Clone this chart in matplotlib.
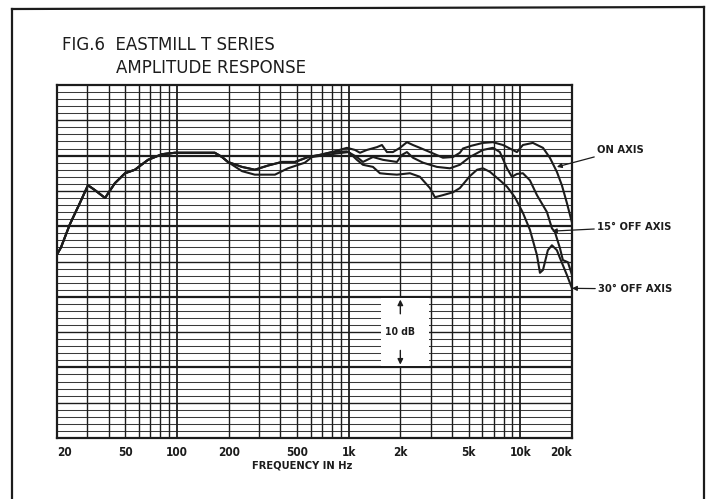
import matplotlib
matplotlib.use('Agg')
import matplotlib.pyplot as plt
from matplotlib.patches import Rectangle
from matplotlib.lines import Line2D
import numpy as np

# 低频段三条曲线重合
lf_freq = [20, 21.1, 23.8, 27.2, 30.3, 33.3, 38.1, 43.5, 49.8, 56.9, 67.8, 81.8, 97.3, 116, 136, 166, 183, 198]
lf_db = [26.0, 27.0, 30.3, 33.3, 35.8, 35.1, 34.0, 36.1, 37.5, 38.0, 39.4, 40.2, 40.4, 40.4, 40.4, 40.4, 39.8, 39.1]

on_freq = [239, 284, 340, 408, 487, 580, 680, 800, 977, 1089, 1164, 1277, 1462, 1563, 1671, 1811, 1990,
           2185, 2369, 2600, 2975, 3540, 4050, 4445, 4630, 5200, 6055, 6925, 7925, 9555, 10350, 11830,
           13550, 14860, 16330, 17460, 18670, 20000]
on_db = [38.4, 38.0, 38.6, 39.1, 39.1, 39.8, 40.1, 40.5, 41.1, 40.8, 40.4, 40.8, 41.2, 41.5, 40.5, 40.5, 41.1,
         41.9, 41.5, 41.1, 40.5, 39.7, 39.8, 40.4, 41.0, 41.4, 41.8, 41.9, 41.5, 40.5, 41.5, 41.8,
         41.1, 39.7, 37.7, 35.8, 33.3, 30.5]

off15_freq = [239, 284, 340, 408, 487, 580, 680, 800, 977, 1117, 1211, 1385, 1585, 1910, 2043, 2185, 2369,
              2710, 3266, 3890, 4445, 5085, 6055, 6925, 7600, 8360, 8935, 9555, 10350, 11370, 12500,
              14290, 15280, 15890, 17010, 17700, 18930, 20000]
off15_db = [38.4, 38.0, 38.6, 39.1, 39.1, 39.8, 40.1, 40.5, 40.6, 39.8, 39.1, 39.8, 39.4, 39.1, 40.1, 40.5, 39.7,
            39.0, 38.4, 38.2, 38.7, 39.8, 40.8, 41.1, 40.5, 38.2, 37.0, 37.4, 37.5, 36.5, 34.4,
            32.0, 29.7, 29.2, 26.9, 25.2, 24.9, 23.1]

off30_freq = [239, 284, 372, 443, 556, 611, 700, 850, 1000, 1117, 1211, 1385, 1521, 1671, 1910, 2275, 2600,
              2975, 3180, 3540, 4050, 4445, 5085, 5600, 6055, 6655, 7600, 8360, 9300, 10350, 11370,
              12500, 13010, 13550, 14470, 15280, 16330, 17010, 18670, 20000]
off30_db = [37.8, 37.3, 37.3, 38.2, 39.0, 39.8, 40.0, 40.3, 40.5, 39.4, 38.7, 38.4, 37.5, 37.4, 37.3, 37.5, 37.0,
            35.4, 34.1, 34.4, 34.8, 35.4, 37.1, 38.0, 38.2, 37.7, 36.5, 35.6, 34.1, 31.9, 29.5,
            25.9, 23.4, 23.8, 26.6, 27.3, 26.6, 25.5, 23.1, 21.2]

tick_freqs = [20, 50, 100, 200, 500, 1000, 2000, 5000, 10000, 20000]
tick_labels = ['20', '50', '100', '200', '500', '1k', '2k', '5k', '10k', '20k']

ink = '#1c1c1c'
lab = dict(family='DejaVu Sans', fontstretch='condensed', fontweight='bold', color=ink)

fig = plt.figure(figsize=(7.13, 4.99), dpi=100)
ax = fig.add_axes([57 / 713, 1 - 438 / 499, 515 / 713, 353 / 499])
ax.set_xscale('log')
ax.set_xlim(20, 20000)
ax.set_ylim(0, 50)

# 坐标纸网格
for d in range(1, 50):
    if d % 10 == 0:
        ax.axhline(d, color=ink, lw=1.6, zorder=1)
    elif d % 5 == 0:
        ax.axhline(d, color=ink, lw=1.0, zorder=1)
    else:
        ax.axhline(d, color='#3a3a3a', lw=0.75, zorder=1)
for dec in [10, 100, 1000, 10000]:
    for m in range(1, 10):
        f = dec * m
        if 20 < f < 20000:
            ax.axvline(f, color=ink, lw=1.3 if m == 1 else 1.0, zorder=1)

# 10 dB 标尺
ax.add_patch(Rectangle((1540, 10.2), 2950 - 1540, 9.6, facecolor='white', edgecolor='none', zorder=2))
ax.annotate('', xy=(2000, 20), xytext=(2000, 17.2),
            arrowprops=dict(arrowstyle='-|>', lw=1.0, color=ink, mutation_scale=8), zorder=3)
ax.annotate('', xy=(2000, 10), xytext=(2000, 12.8),
            arrowprops=dict(arrowstyle='-|>', lw=1.0, color=ink, mutation_scale=8), zorder=3)
ax.text(2000, 15, '10 dB', ha='center', va='center', fontsize=7.5, zorder=3, **lab)

# 曲线
ax.plot(lf_freq + off30_freq, lf_db + off30_db, color=ink, lw=1.5, zorder=4)
ax.plot(lf_freq + off15_freq, lf_db + off15_db, color=ink, lw=1.5, zorder=4)
ax.plot(lf_freq + on_freq, lf_db + on_db, color=ink, lw=1.5, zorder=4)

ax.set_xticks(tick_freqs)
ax.set_xticklabels(tick_labels, **lab)
ax.get_xticklabels()[0].set_ha('left')
ax.get_xticklabels()[-1].set_ha('right')
ax.xaxis.set_minor_locator(matplotlib.ticker.NullLocator())
ax.set_yticks([])
ax.tick_params(axis='x', length=0, pad=6, labelsize=8.5)
for s in ax.spines.values():
    s.set_color(ink)
    s.set_linewidth(1.6)

fig.text(302 / 713, 1 - 465 / 499, 'FREQUENCY IN Hz', ha='center', va='center', fontsize=8, **lab)

# 曲线标注
arrow = dict(arrowstyle='-|>', lw=0.9, color=ink, mutation_scale=7, shrinkA=0, shrinkB=0)
ax.annotate('ON AXIS', xy=(16330, 38.4), xytext=(597 / 713, 1 - 150 / 499), textcoords='figure fraction',
            ha='left', va='center', fontsize=8, arrowprops=arrow, annotation_clip=False, **lab)
ax.annotate('15° OFF AXIS', xy=(15280, 29.3), xytext=(597 / 713, 1 - 227 / 499), textcoords='figure fraction',
            ha='left', va='center', fontsize=8, arrowprops=arrow, annotation_clip=False, **lab)
ax.annotate('30° OFF AXIS', xy=(20000, 21.2), xytext=(598 / 713, 1 - 289 / 499), textcoords='figure fraction',
            ha='left', va='center', fontsize=8, arrowprops=arrow, annotation_clip=False, **lab)

# 标题
fig.text(62 / 713, 1 - 45 / 499, 'FIG.6  EASTMILL T SERIES', ha='left', va='center',
         fontsize=12, family='DejaVu Sans', color=ink)
fig.text(116 / 713, 1 - 68 / 499, 'AMPLITUDE RESPONSE', ha='left', va='center',
         fontsize=12, family='DejaVu Sans', color=ink)

# 外框
fig.add_artist(Line2D([12 / 713, 12 / 713], [0, 1 - 9 / 499], color=ink, lw=1.6, transform=fig.transFigure))
fig.add_artist(Line2D([12 / 713, 704 / 713], [1 - 9 / 499, 1 - 7 / 499], color=ink, lw=1.6, transform=fig.transFigure))
fig.add_artist(Line2D([704 / 713, 704 / 713], [1 - 7 / 499, 0], color=ink, lw=1.6, transform=fig.transFigure))

fig.savefig('out.png', dpi=100)
